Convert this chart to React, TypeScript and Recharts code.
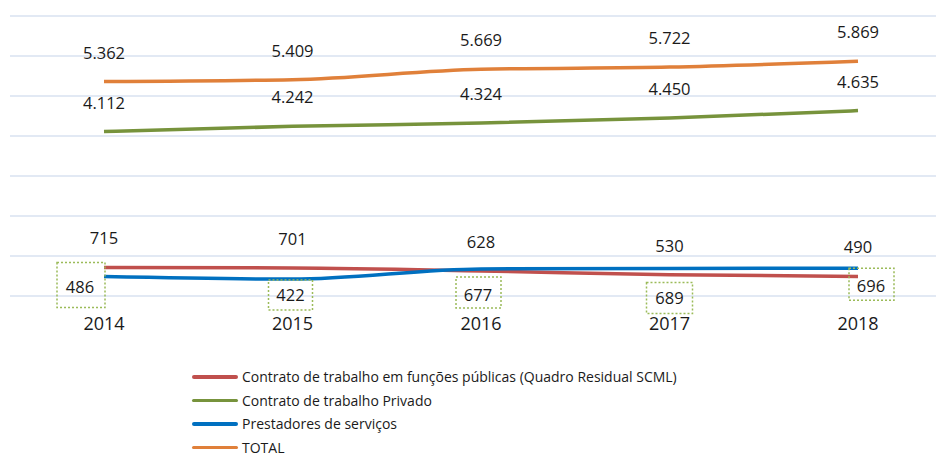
import { LineChart, Line, XAxis, YAxis, CartesianGrid } from 'recharts';

const YEARS = ['2014', '2015', '2016', '2017', '2018'];
const PUBLICO = [715, 701, 628, 530, 490];
const PRIVADO = [4112, 4242, 4324, 4450, 4635];
const PRESTADORES = [486, 422, 677, 689, 696];
const TOTAL = [5362, 5409, 5669, 5722, 5869];
const Y_TICKS = [0, 1000, 2000, 3000, 4000, 5000, 6000, 7000];

const SERIES = [
  { key: 'publico', name: 'Contrato de trabalho em funções públicas (Quadro Residual SCML)', color: '#C0504D' },
  { key: 'privado', name: 'Contrato de trabalho Privado', color: '#77933C' },
  { key: 'prestadores', name: 'Prestadores de serviços', color: '#0070C0' },
  { key: 'total', name: 'TOTAL', color: '#E0803A' },
];

const data = YEARS.map((year, i) => ({
  year,
  publico: PUBLICO[i],
  privado: PRIVADO[i],
  prestadores: PRESTADORES[i],
  total: TOTAL[i],
}));

const FONT = '"Open Sans", "Noto Sans", sans-serif';

const fmt = (v: number) => String(v).replace(/\B(?=(\d{3})+(?!\d))/g, '.');

function TopLabel(props: any) {
  const { x, y, value } = props;
  return (
    <text x={x} y={y - 23} textAnchor="middle" fontSize={16.5} fill="#1a1a1a" fontFamily={FONT}>
      {fmt(value)}
    </text>
  );
}

// text centre and box edges relative to each point (boxes were hand-placed in the original)
const BOX_POS = [
  { tx: -24, ty: 10, bx: -47, by: -14, bw: 48, bh: 45 },
  { tx: -2, ty: 16, bx: -24, by: 1, bw: 44, bh: 30 },
  { tx: -3, ty: 26, bx: -25, by: 8, bw: 45, bh: 31 },
  { tx: 0, ty: 30, bx: -23, by: 14, bw: 46, bh: 31 },
  { tx: 13, ty: 18, bx: -9, by: 0, bw: 45, bh: 32 },
];

function BoxLabel(props: any) {
  const { x, y, value, index } = props;
  const p = BOX_POS[index];
  return (
    <g>
      <rect
        x={x + p.bx}
        y={y + p.by}
        width={p.bw}
        height={p.bh}
        fill="none"
        stroke="#9BBB59"
        strokeWidth={1.5}
        strokeDasharray="2 2"
      />
      <text x={x + p.tx} y={y + p.ty + 6} textAnchor="middle" fontSize={16.5} fill="#1a1a1a" fontFamily={FONT}>
        {fmt(value)}
      </text>
    </g>
  );
}

function YearTick(props: any) {
  const { x, payload } = props;
  return (
    <text x={x} y={329.5} textAnchor="middle" fontSize={18} fill="#1a1a1a" fontFamily={FONT}>
      {payload.value}
    </text>
  );
}

export default function App() {
  return (
    <div style={{ position: 'absolute', left: 0, top: 0, width: 936, height: 454, overflow: 'hidden', background: '#fff' }}>
      <LineChart width={952} height={454} data={data} margin={{ top: 16, right: 0, left: 10, bottom: 128 }}>
        <CartesianGrid horizontal vertical={false} stroke="#D9E2F1" strokeWidth={1.5} />
        <XAxis
          dataKey="year"
          axisLine={false}
          tickLine={false}
          height={30}
          tick={<YearTick />}
          interval={0}
          padding={{ left: 94, right: 94 }}
        />
        <YAxis hide domain={[0, 7000]} ticks={Y_TICKS} />
        <Line type="monotone" dataKey="publico" stroke="#C0504D" strokeWidth={3.5} dot={false} isAnimationActive={false} label={<TopLabel />} />
        <Line type="monotone" dataKey="privado" stroke="#77933C" strokeWidth={3.5} dot={false} isAnimationActive={false} label={<TopLabel />} />
        <Line type="monotone" dataKey="prestadores" stroke="#0070C0" strokeWidth={3.5} dot={false} isAnimationActive={false} label={<BoxLabel />} />
        <Line type="monotone" dataKey="total" stroke="#E0803A" strokeWidth={3.5} dot={false} isAnimationActive={false} label={<TopLabel />} />
      </LineChart>
      <div style={{ position: 'absolute', left: 192, top: 365, fontFamily: FONT, fontSize: 14, color: '#1a1a1a' }}>
        {SERIES.map((s) => (
          <div key={s.key} style={{ display: 'flex', alignItems: 'center', height: 23.5 }}>
            <span style={{ display: 'inline-block', width: 46, height: 3.5, borderRadius: 2, background: s.color, marginRight: 4 }} />
            <span style={{ whiteSpace: 'nowrap' }}>{s.name}</span>
          </div>
        ))}
      </div>
    </div>
  );
}
